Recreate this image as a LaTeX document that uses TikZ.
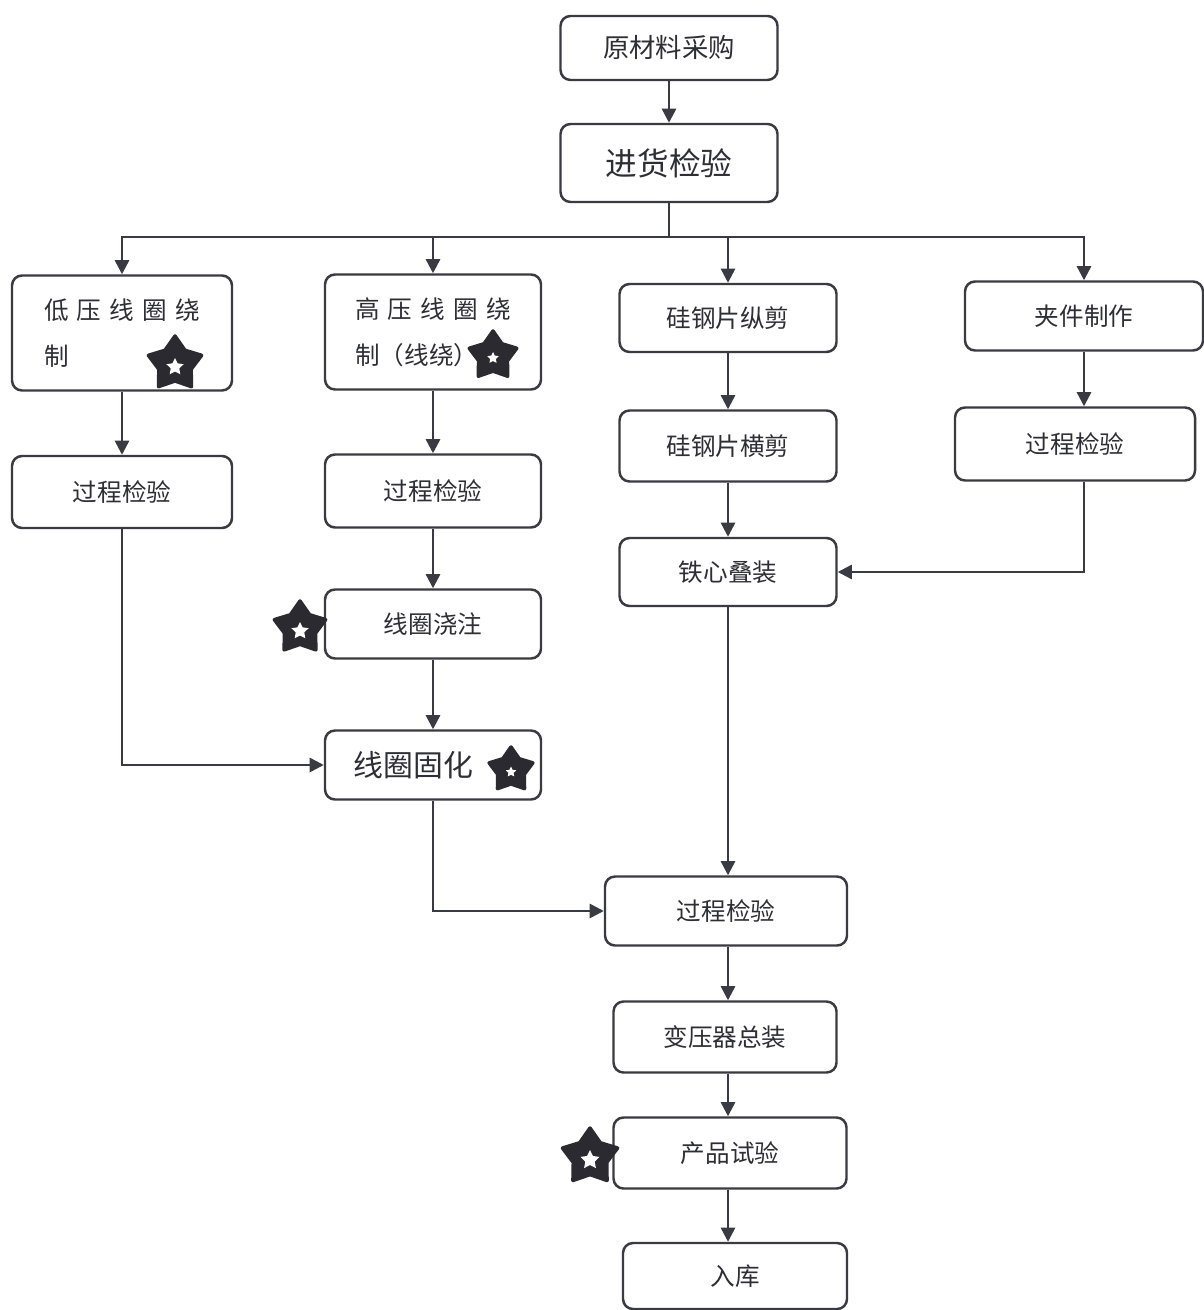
\documentclass[tikz,border=0pt]{standalone}
\usepackage{fontspec}
\setmainfont{Noto Sans CJK SC}
\usetikzlibrary{shapes.geometric,arrows.meta}
\definecolor{lc}{HTML}{3A3A42}
\definecolor{tc}{HTML}{2E2E36}
\definecolor{sc}{HTML}{2A2A30}
\begin{document}
\begin{tikzpicture}[x=0.02cm,y=-0.02cm,
  box/.style={draw=lc,line width=1.4pt,rounded corners=0.2cm,fill=white,
    font=\fontsize{14}{26}\selectfont,text=tc,align=left,inner sep=0pt},
  wh/.style 2 args={minimum width=#1*0.02cm,minimum height=#2*0.02cm},
  arr/.style={draw=lc,line width=1.4pt,-{Triangle[width=8pt,length=8pt]}},
  plain/.style={draw=lc,line width=1.4pt},
  bigstar/.style={star,star points=5,star point ratio=1.65,fill=sc,draw=sc,
    line width=2pt,line join=round,minimum size=#1*0.02cm,inner sep=0pt},
  smallstar/.style={star,star points=5,star point ratio=2.0,fill=white,draw=none,
    minimum size=#1*0.02cm,inner sep=0pt}]
\useasboundingbox[fill=white] (0,0) rectangle (1203,1310);

% boxes
\node[box,wh={217}{64},font=\fontsize{15}{18}\selectfont] (yl) at (669,48) {原材料采购};
\node[box,wh={217}{78},font=\fontsize{18}{22}\selectfont] (jh) at (669,163) {进货检验};
\node[box,wh={220}{115}] (lv) at (122,333) {低\hspace{0.33em}压\hspace{0.33em}线\hspace{0.33em}圈\hspace{0.33em}绕\\制};
\node[box,wh={216}{115}] (hv) at (433,332) {高\hspace{0.33em}压\hspace{0.33em}线\hspace{0.33em}圈\hspace{0.33em}绕\\制（线绕）\hspace{1.6em}};
\node[box,wh={217}{68}] (zj) at (728,318) {硅钢片纵剪};
\node[box,wh={238}{69}] (jj) at (1084,316) {夹件制作};
\node[box,wh={220}{72}] (c1) at (122,492) {过程检验};
\node[box,wh={216}{73}] (c2) at (433,491) {过程检验};
\node[box,wh={217}{71}] (hj) at (728,446) {硅钢片横剪};
\node[box,wh={240}{73}] (c3) at (1075,444) {过程检验};
\node[box,wh={217}{68}] (tx) at (728,572) {铁心叠装};
\node[box,wh={216}{69}] (jz) at (433,624) {线圈浇注};
\node[box,wh={216}{69},font=\fontsize{17}{20}\selectfont] (gh) at (433,765) {线圈固化\hspace{1.3em}};
\node[box,wh={242}{69}] (c4) at (726,911) {过程检验};
\node[box,wh={223}{71}] (zz) at (725,1037) {变压器总装};
\node[box,wh={233}{71}] (sy) at (730,1153) {产品试验};
\node[box,wh={224}{66}] (rk) at (735,1276) {入库};

% connectors
\coordinate (bus) at (669,237);
\draw[arr] (yl.south) -- (jh.north);
\draw[plain] (jh.south) -- (bus);
\draw[arr] (bus) -| (lv.north);
\draw[arr] (bus) -| (hv.north);
\draw[arr] (bus) -| (zj.north);
\draw[arr] (bus) -| (jj.north);
\draw[arr] (lv.south) -- (c1.north);
\draw[arr] (hv.south) -- (c2.north);
\draw[arr] (c2.south) -- (jz.north);
\draw[arr] (jz.south) -- (gh.north);
\draw[arr] (c1.south) |- (gh.west);
\draw[arr] (gh.south) |- (c4.west);
\draw[arr] (zj.south) -- (hj.north);
\draw[arr] (hj.south) -- (tx.north);
\draw[arr] (jj.south) -- (jj.south |- c3.north);
\draw[arr] (c3.south -| jj.south) |- (tx.east);
\draw[arr] (tx.south) -- (tx.south |- c4.north);
\draw[arr] (c4.south -| tx.south) -- (tx.south |- zz.north);
\draw[arr] (zz.south -| tx.south) -- (tx.south |- sy.north);
\draw[arr] (sy.south -| tx.south) -- (tx.south |- rk.north);

% stars
\node[bigstar=56] (s1) at (175,364) {};
\node[smallstar=18] (s1i) at (175,367) {};
\node[bigstar=50] (s2) at (493,356) {};
\node[smallstar=12] (s2i) at (493,358) {};
\node[bigstar=54] (s3) at (300,628) {};
\node[smallstar=18] (s3i) at (300,631) {};
\node[bigstar=46] (s4) at (511,770) {};
\node[smallstar=11] (s4i) at (511,772) {};
\node[bigstar=58] (s5) at (590,1157) {};
\node[smallstar=20] (s5i) at (590,1160) {};
\end{tikzpicture}
\end{document}
